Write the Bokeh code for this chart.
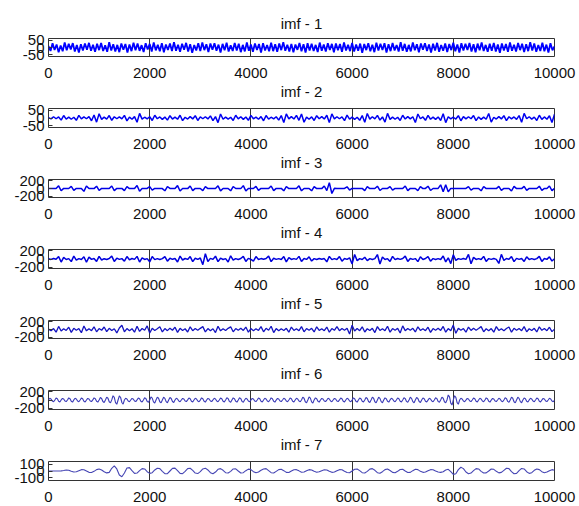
import numpy as np
from bokeh.plotting import figure
from bokeh.layouts import column
from bokeh.models import FixedTicker, Range1d, ColumnDataSource, Title, PrintfTickFormatter, AllLabels
from bokeh.embed import file_html
from bokeh.resources import INLINE

# ---------------- data ----------------
titles = ["imf - 1", "imf - 2", "imf - 3", "imf - 4", "imf - 5", "imf - 6", "imf - 7"]
x_ticks = [0, 2000, 4000, 6000, 8000, 10000]
y_ticks = [[-50, 0, 50], [-50, 0, 50], [-200, 0, 200], [-200, 0, 200],
           [-200, 0, 200], [-200, 0, 200], [-100, 0, 100]]
y_limits = [62, 62, 235, 235, 235, 235, 140]
sample_step = [40, 50, 50, 50, 50, 25, 50]

imf1 = [
    10, -24, 29, -17, 21, -33, 14, -26, 34, -19, 25, -13, 30, -28, 17, -35, 23, -20, 27, -15, 32, -22, 19, -30, 26,
    -18, 31, -24, 15, -29, 36, -21, 22, -27, 18, -32, 28, -16, 24, -34, 20, -25, 33, -19, 27, -23, 16, -31, 29, -14,
    25, -28, 35, -20, 18, -26, 30, -33, 21, -17, 28, -24, 37, -22, 19, -30, 26, -15, 32, -27, 23, -36, 17, -21, 29,
    -25, 34, -18, 22, -31, 27, -16, 30, -23, 20, -35, 25, -19, 33, -28, 16, -24, 31, -20, 26, -32, 18, -27, 35, -22,
    21, -29, 28, -17, 24, -34, 30, -21, 17, -26, 33, -25, 22, -30, 27, -18, 36, -23, 19, -28, 25, -33, 20, -16, 31,
    -26, 23, -35, 29, -20, 26, -24, 18, -31, 34, -22, 21, -27, 30, -17, 25, -33, 28, -19, 24, -29, 35, -21, 18, -25,
    32, -28, 20, -23, 27, -36, 24, -18, 30, -26, 19, -32, 33, -21, 26, -17, 29, -34, 22, -25, 31, -20, 17, -28, 36,
    -23, 25, -30, 18, -27, 34, -19, 23, -33, 28, -16, 30, -24, 21, -35, 26, -20, 32, -29, 17, -22, 27, -31, 24, -18,
    33, -26, 20, -34, 29, -21, 25, -17, 31, -28, 22, -33, 27, -19, 35, -24, 18, -30, 26, -22, 32, -27, 21, -36, 28,
    -20, 24, -29, 34, -23, 19, -27, 31, -18, 26, -32, 22, -25, 36, -21, 28, -30, 17, -24, 33, -26, 20, -35, 29, -19, 8,
]

imf2 = [
    3, -6, 8, -5, 7, -14, 16, -7, 6, -8,
    5, -15, 17, -6, 7, -5, 9, -18, 20, -27,
    28, -9, 6, -7, 16, -15, 8, -5, 7, -6,
    17, -19, 6, -8, 9, -28, 30, -7, 5, -6,
    8, -16, 18, -5, 7, -9, 6, -14, 15, -7,
    6, -8, 18, -17, 5, -7, 9, -6, 15, -16,
    7, -5, 8, -6, 14, -17, 9, -30, 26, -8,
    6, -7, 5, -16, 18, -6, 8, -9, 7, -15,
    17, -5, 6, -8, 9, -18, 16, -7, 5, -6,
    8, -14, 16, -29, 27, -6, 9, -7, 17, -15,
    26, -28, 6, -8, 7, -16, 15, -5, 9, -7,
    18, -30, 27, -6, 8, -5, 7, -17, 19, -8,
    6, -9, 5, -15, 16, -28, 29, -7, 8, -6,
    17, -14, 7, -27, 30, -9, 6, -8, 5, -16,
    18, -7, 9, -6, 8, -29, 26, -5, 7, -15,
    17, -8, 6, -9, 7, -16, 28, -30, 8, -6,
    5, -7, 15, -18, 9, -6, 8, -5, 16, -17,
    7, -9, 6, -8, 29, -27, 5, -7, 9, -6,
    15, -17, 8, -6, 7, -9, 16, -28, 30, -5,
    8, -7, 6, -16, 18, -9, 7, -8, 15, -29,
    24,
]

imf3 = [
    1, -2, 2, -1, 70, -58, 3, -2, 1, 55,
    -48, 2, -1, 2, -75, 66, -2, 1, -3, 60,
    -52, 2, -1, 1, -2, 65, -55, 2, -1, 3,
    -55, 48, -2, 1, -2, 80, -70, 2, -3, 1,
    50, -44, 2, -1, 2, -2, -60, 52, 1, -2,
    2, 75, -64, -1, 2, -3, 65, -56, 2, -1,
    1, -55, 47, -2, 3, -1, 2, 70, -62, 1,
    -2, 2, -60, 52, -1, 2, -3, 75, -66, 2,
    -1, 1, 55, -48, 2, -2, 1, -1, 65, -57,
    2, -1, 3, -60, 52, -2, 1, -2, 2, 70,
    -60, 1, -2, 2, -60, 50, -1, 2, -3, 65,
    -56, 150, -130, 4, -2, 1, -2, 2, 45, -40,
    2, -1, 1, -2, 2, -55, 47, -1, 2, -2,
    60, -52, 1, -2, 2, 50, -44, 1, -1, 2,
    -2, 65, -57, 2, -1, 1, -55, 48, -2, 2,
    60, -52, 1, -2, 2, 95, -85, 100, -88, 3,
    -2, 1, -1, 2, -2, 1, 50, -44, 2, -1,
    1, -60, 52, -2, 2, -1, 1, -2, 55, -48,
    2, -1, 2, -65, 56, -2, 1, -2, 55, -47,
    2, -1, 1, -2, 60, -52, 2, -1, 65, -56,
    2,
]

imf4 = [
    5, -10, 12, -8, 60, -75, 40, -12, 9, -65,
    70, -30, 10, -12, 55, -80, 45, -9, 11, -60,
    65, -25, 8, -11, 12, 70, -60, 20, -10, 9,
    -55, 60, -20, 12, -9, 65, -75, 30, -11, 10,
    -70, 60, -15, 9, -12, 10, 60, -55, 20, -8,
    11, -75, 70, -25, 12, -10, 60, -65, 18, -9,
    25, -140, 130, -60, 15, -10, 70, -65, 20, -12,
    9, -75, 80, -25, 10, -11, 12, 65, -60, 15,
    -9, -55, 60, -12, 10, -8, 11, 70, -65, 18,
    -10, 9, -12, 60, -70, 35, -11, 10, -9, 65,
    -60, 12, -10, 55, -50, 9, -12, 11, -8, 10,
    -70, 65, -15, 9, -11, 60, -55, 12, -10, 30,
    -120, 110, -40, 10, -12, 45, -40, 9, -11, 10,
    110, -125, 50, -12, 9, -60, 65, -15, 11, -10,
    12, 70, -60, 12, -9, 10, -65, 55, -11, 12,
    60, -55, 10, -12, 9, -11, 75, -70, 30, -115,
    105, -35, 10, -9, 12, -10, 115, -120, 40, -11,
    9, -12, 65, -60, 10, -9, 11, -10, -110, 115,
    -35, 12, -9, 60, -65, 15, -10, 11, -60, 55,
    -12, 9, -11, 10, 65, -60, 12, -9, 55, -50,
    8,
]

imf5 = [
    10, -30, 25, -70, 80, -40, 20, -25, 60, -75,
    30, -20, 25, -85, 90, -35, 20, -30, 70, -60,
    25, -20, 65, -55, 30, -25, 20, -90, 40, 110,
    -60, 25, -30, 20, -70, 85, -50, 25, -20, 95,
    -90, 30, -25, 20, 70, -65, 25, -30, 35, -20,
    60, -75, 30, -25, 20, -65, 70, -30, 25, -20,
    30, 75, -65, 25, -30, 20, -80, 85, -35, 20,
    -25, 30, 70, -60, 25, -20, 30, -25, 65, -70,
    25, -30, 20, -25, 75, -60, 30, -20, 85, -80,
    25, -30, 20, -25, 30, -70, 65, -25, 20, -30,
    75, -60, 25, -20, 30, -65, 70, -25, 20, -30,
    65, -70, 25, -20, 75, -30, 25, -20, 30, -120,
    110, -40, 25, -30, 70, -65, 20, -25, 30, -80,
    75, -25, 20, -30, 85, -70, 25, -20, 30, -90,
    95, -30, 25, -20, 30, -65, 70, -25, 20, -30,
    60, -75, 25, -20, 30, -25, 80, -70, 25, -30,
    115, -100, 30, -20, 25, -70, 65, -25, 30, -20,
    25, 75, -60, 20, -30, 25, -70, 75, -25, 20,
    -30, 25, 65, -70, 30, -20, 25, -30, 75, -60,
    20, -25, 30, -65, 70, -20, 25, -30, 60, -55,
    10,
]

imf6 = [
    0, 43, 27, -27, -43, -2, 48, 30, -30, -48, 1, 38, 24, -24, -38, 0, 52, 32, -32, -52,
    2, 43, 27, -27, -43, -1, 48, 30, -30, -48, 0, 38, 24, -24, -38, 1, 52, 32, -32, -52,
    -2, 62, 38, -38, -62, 0, 71, 44, -44, -71, 3, 105, 65, -65, -105, 0, 100, 62, -62, -100,
    -1, 43, 27, -27, -43, 0, 38, 24, -24, -38, 2, 48, 30, -30, -48, 0, 57, 35, -35, -57,
    -2, 76, 47, -47, -76, 0, 71, 44, -44, -71, 1, 67, 41, -41, -67, 0, 62, 38, -38, -62,
    -1, 43, 27, -27, -43, 0, 38, 24, -24, -38, 2, 48, 30, -30, -48, 0, 43, 27, -27, -43,
    -2, 52, 32, -32, -52, 0, 38, 24, -24, -38, 1, 43, 27, -27, -43, 0, 48, 30, -30, -48,
    -1, 57, 35, -35, -57, 0, 52, 32, -32, -52, 2, 57, 35, -35, -57, 0, 43, 27, -27, -43,
    -1, 38, 24, -24, -38, 0, 48, 30, -30, -48, 1, 43, 27, -27, -43, 0, 52, 32, -32, -52,
    -2, 38, 24, -24, -38, 0, 43, 27, -27, -43, 1, 48, 30, -30, -48, 0, 43, 27, -27, -43,
    -1, 71, 44, -44, -71, 0, 76, 47, -47, -76, 2, 52, 32, -32, -52, 0, 38, 24, -24, -38,
    -1, 43, 27, -27, -43, 0, 38, 24, -24, -38, 1, 48, 30, -30, -48, 0, 43, 27, -27, -43,
    -2, 52, 32, -32, -52, 0, 48, 30, -30, -48, 1, 62, 38, -38, -62, 0, 71, 44, -44, -71,
    -1, 67, 41, -41, -67, 0, 52, 32, -32, -52, 2, 43, 27, -27, -43, 0, 48, 30, -30, -48,
    -1, 57, 35, -35, -57, 0, 67, 41, -41, -67, 1, 62, 38, -38, -62, 0, 48, 30, -30, -48,
    -2, 43, 27, -27, -43, 0, 57, 35, -35, -57, 1, 71, 44, -44, -71, 0, 124, 77, -77, -124,
    2, 105, 65, -65, -105, 0, 43, 27, -27, -43, -1, 38, 24, -24, -38, 0, 48, 30, -30, -48,
    1, 43, 27, -27, -43, 0, 52, 32, -32, -52, -2, 38, 24, -24, -38, 0, 43, 27, -27, -43,
    1, 57, 35, -35, -57, 0, 71, 44, -44, -71, -1, 67, 41, -41, -67, 0, 48, 30, -30, -48,
    2, 43, 27, -27, -43, 0, 48, 30, -30, -48, -1, 38, 24, -24, -38, 0, 43, 27, -27, -43,
    0,
]

imf7 = [
    0, 1, 0, -1, 0, 2,
    8, 15, 10, -5, -15, -10,
    5, 20, 18, 0, -20, -22,
    -5, 20, 30, 15, -10, -28,
    -20, 40, 75, 30, -60, -85,
    -30, 45, 50, 5, -35, -30,
    5, 35, 30, -10, -35, -25,
    15, 40, 35, -5, -40, -38,
    0, 38, 42, 5, -35, -40,
    -5, 35, 40, 10, -30, -38,
    -10, 30, 42, 15, -25, -40,
    -15, 25, 35, 10, -25, -30,
    -5, 30, 32, 0, -30, -25,
    5, 28, 20, -10, -25, -15,
    10, 30, 35, 5, -25, -30,
    -5, 20, 25, 5, -20, -22,
    0, 18, 20, 2, -18, -15,
    5, 20, 15, -5, -18, -12,
    5, 18, 15, -5, -20, -15,
    5, 20, 18, -5, -22, -25,
    0, 25, 30, 5, -25, -30,
    -5, 28, 35, 10, -25, -32,
    -10, 20, 30, 8, -20, -25,
    -5, 22, 25, 0, -22, -20,
    5, 25, 20, -5, -20, -15,
    5, 20, 18, 0, -15, -20,
    -10, 15, 25, -10, -50, -40,
    20, 55, 35, -15, -40, -30,
    5, 35, 30, -5, -30, -28,
    0, 30, 25, -5, -28, -20,
    10, 40, 35, -10, -40, -35,
    5, 38, 30, -10, -35, -25,
    10, 30, 20, -10, -25, -15,
    5, 20, 10,
]

series = [imf1, imf2, imf3, imf4, imf5, imf6, imf7]

# ---------------- layout / style ----------------
FONT = "Liberation Sans"
TXT = "#111111"
FRAME_H = 19
# each figure: [its frame + x axis + title of the next panel]
heights = [100, 71, 70, 71, 70, 71, 53]
tops = [38, 8, 8, 8, 8, 8, 8]
line_colors = ["#0000ff", "#0000f0", "#0000e6", "#0000dd", "#1414c0", "#3c3cb8", "#4646b4"]
line_widths = [1.8, 1.5, 1.5, 1.5, 1.3, 1.1, 1.1]


def make_title(text, standoff):
    return Title(text=text, align="center", text_font=FONT, text_font_size="15px",
                 text_font_style="normal", text_color=TXT, standoff=standoff)


figs = []
for i in range(7):
    h = heights[i]
    top = tops[i]
    lim = y_limits[i]
    vals = series[i]
    xs = np.arange(len(vals)) * sample_step[i]
    src = ColumnDataSource(dict(x=xs, y=vals))

    p = figure(width=579, height=h, output_backend="svg", toolbar_location=None, title=None,
               x_range=Range1d(0, 10000), y_range=Range1d(-lim, lim),
               min_border_left=48, min_border_right=25,
               min_border_top=top, min_border_bottom=h - top - FRAME_H)

    p.line("x", "y", source=src, line_color=line_colors[i], line_width=line_widths[i])

    p.outline_line_color = "#333333"
    p.outline_line_width = 1
    p.background_fill_color = "white"
    p.border_fill_color = "white"

    p.xgrid.ticker = FixedTicker(ticks=x_ticks)
    p.xgrid.grid_line_color = "#333333"
    p.xgrid.grid_line_width = 1
    p.ygrid.grid_line_color = None

    xa = p.xaxis[0]
    xa.ticker = FixedTicker(ticks=x_ticks)
    xa.formatter = PrintfTickFormatter(format="%d")
    xa.axis_line_color = None
    xa.major_tick_in = 0
    xa.major_tick_out = 0
    xa.minor_tick_line_color = None
    xa.major_label_standoff = 11
    xa.major_label_text_font = FONT
    xa.major_label_text_font_size = "15px"
    xa.major_label_text_color = TXT

    ya = p.yaxis[0]
    ya.ticker = FixedTicker(ticks=y_ticks[i])
    ya.formatter = PrintfTickFormatter(format="%d")
    ya.major_label_policy = AllLabels()
    ya.axis_line_color = None
    ya.major_tick_in = 4
    ya.major_tick_out = 0
    ya.major_tick_line_color = "#333333"
    ya.minor_tick_line_color = None
    ya.major_label_standoff = 4
    ya.major_label_text_font = FONT
    ya.major_label_text_font_size = "15px"
    ya.major_label_text_color = TXT

    if i == 0:
        p.add_layout(make_title(titles[0], 13), "above")
    if i < 6:
        p.add_layout(make_title(titles[i + 1], 1), "below")

    figs.append(p)

layout = column(*figs, spacing=0)
open("out.html", "w").write(file_html(layout, INLINE))
